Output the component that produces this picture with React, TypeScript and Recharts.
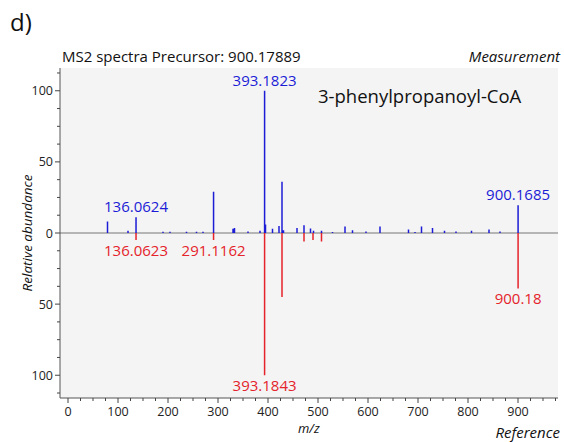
import { ComposedChart, Line, XAxis, YAxis, ReferenceLine, ReferenceDot, CartesianGrid } from 'recharts';

// measured spectrum (drawn upward)
const measuredMz = [
	79, 120, 136.0624, 190, 204, 237, 257, 270, 291.12, 330, 333, 360, 384,
	393.1823, 395, 409, 422, 428, 431, 458, 472, 485, 491, 507, 529, 554, 569,
	596, 624, 681, 694, 707, 729, 753, 776, 807, 842, 864, 900.1685,
];
const measuredIntensity = [
	8, 1.5, 11, 0.8, 0.8, 0.8, 0.8, 0.8, 29, 3, 3.5, 1, 1.5,
	100, 6, 3, 5, 36, 2, 3.5, 5.5, 3.2, 1.5, 1.5, 0.7, 4.5, 2,
	1, 4.5, 2.5, 0.7, 4.5, 3.5, 1.5, 1, 1.5, 2.5, 1, 19.5,
];

// reference spectrum (drawn downward)
const referenceMz = [136.0623, 291.1162, 393.1843, 428, 472, 490, 507, 900.18];
const referenceIntensity = [5, 5, 100, 45, 6, 5, 6, 39];

const measuredLabels = [136.0624, 393.1823, 900.1685];
const referenceLabels = ['136.0623', '291.1162', '393.1843', '900.18'];

const xLabels = [0, 100, 200, 300, 400, 500, 600, 700, 800, 900];
const yLabels = [-100, -50, 0, 50, 100];
const xTicks = Array.from({ length: 40 }, (_, i) => i * 25);
const yTicks = Array.from({ length: 19 }, (_, i) => -112.5 + i * 12.5);

const BLUE = '#1c1cd6';
const RED = '#e5232b';
const FONT = '"Open Sans", sans-serif';

// each peak becomes a vertical stick: baseline -> top -> gap
const sticks = (mz: number[], vals: number[], sign: number) =>
	mz.flatMap((m, i) => [
		{ mz: m, v: 0 },
		{ mz: m, v: sign * vals[i] },
		{ mz: m, v: null },
	]);

const measuredData = sticks(measuredMz, measuredIntensity, 1);
const referenceData = sticks(referenceMz, referenceIntensity, -1);

const XTick = (props: any) => {
	const { x, y, payload } = props;
	const major = xLabels.includes(payload.value);
	return (
		<g>
			<line x1={x} x2={x} y1={y} y2={y + (major ? 5 : 3)} stroke='#444' />
			{major && (
				<text x={x} y={y + 18} textAnchor='middle' fontSize={12.5} fill='#222' fontFamily={FONT}>
					{payload.value}
				</text>
			)}
		</g>
	);
};

const YTick = (props: any) => {
	const { x, y, payload } = props;
	const major = yLabels.includes(payload.value);
	return (
		<g>
			<line x1={x - (major ? 5 : 3)} x2={x} y1={y} y2={y} stroke='#444' />
			{major && (
				<text x={x - 7} y={y + 4.5} textAnchor='end' fontSize={12.5} fill='#222' fontFamily={FONT}>
					{Math.abs(payload.value)}
				</text>
			)}
		</g>
	);
};

const abs = (s: React.CSSProperties): React.CSSProperties => ({
	position: 'absolute',
	fontFamily: FONT,
	whiteSpace: 'nowrap',
	lineHeight: 1,
	...s,
});

export default function App() {
	return (
		<div style={{ position: 'absolute', left: 0, top: 0, width: 564, height: 442, background: '#fff', overflow: 'hidden' }}>
			<ComposedChart
				width={564}
				height={442}
				margin={{ top: 68, right: 6, left: 0, bottom: 14 }}
			>
				<CartesianGrid fill='#f4f4f4' horizontal={false} vertical={false} stroke='none' />
				<XAxis
					type='number'
					dataKey='mz'
					domain={[-16, 980]}
					ticks={xTicks}
					interval={0}
					height={30}
					tickSize={0}
					tickMargin={0}
					tick={<XTick />}
					tickLine={false}
					axisLine={{ stroke: '#555' }}
					allowDataOverflow
				/>
				<XAxis xAxisId='top' orientation='top' type='number' domain={[-16, 980]} height={0} tick={false} tickLine={false} axisLine={{ stroke: '#d6d6d6' }} />
				<YAxis
					type='number'
					domain={[-116, 116]}
					ticks={yTicks}
					interval={0}
					width={60}
					tickSize={0}
					tickMargin={0}
					tick={<YTick />}
					tickLine={false}
					axisLine={{ stroke: '#555' }}
					allowDataOverflow
				/>
				<YAxis yAxisId='right' orientation='right' domain={[-116, 116]} width={0} tick={false} tickLine={false} axisLine={{ stroke: '#d6d6d6' }} />
				<ReferenceLine y={0} stroke='#777' strokeWidth={1} />
				<Line
					data={measuredData}
					dataKey='v'
					stroke={BLUE}
					strokeWidth={1.5}
					dot={false}
					activeDot={false}
					connectNulls={false}
					isAnimationActive={false}
				/>
				<Line
					data={referenceData}
					dataKey='v'
					stroke={RED}
					strokeWidth={1.5}
					dot={false}
					activeDot={false}
					connectNulls={false}
					isAnimationActive={false}
				/>
				{measuredLabels.map((m) => (
					<ReferenceDot
						key={m}
						x={m}
						y={measuredIntensity[measuredMz.indexOf(m)]}
						r={0}
						stroke='none'
						label={{ value: String(m), position: 'top', fill: BLUE, fontSize: 15, fontFamily: FONT, offset: 5 }}
					/>
				))}
				{referenceLabels.map((t) => (
					<ReferenceDot
						key={t}
						x={Number(t)}
						y={-referenceIntensity[referenceMz.indexOf(Number(t))]}
						r={0}
						stroke='none'
						label={{ value: t, position: 'bottom', fill: RED, fontSize: 15, fontFamily: FONT, offset: 5 }}
					/>
				))}
			</ComposedChart>
			<div style={abs({ left: 10, top: 10, fontSize: 24, color: '#111' })}>d)</div>
			<div style={abs({ left: 62, top: 49, fontSize: 15, color: '#111' })}>MS2 spectra Precursor: 900.17889</div>
			<div style={abs({ right: 4, top: 49, fontSize: 15, fontStyle: 'italic', color: '#111' })}>Measurement</div>
			<div style={abs({ left: 318, top: 87, fontSize: 18.5, color: '#111' })}>3-phenylpropanoyl-CoA</div>
			<div style={abs({ left: 298, top: 422, fontSize: 13, fontStyle: 'italic', color: '#111' })}>m/z</div>
			<div style={abs({ right: 4, top: 425, fontSize: 15, fontStyle: 'italic', color: '#111' })}>Reference</div>
			<div
				style={abs({
					left: 28,
					top: 233,
					fontSize: 13.5,
					fontStyle: 'italic',
					color: '#111',
					transform: 'translate(-50%, -50%) rotate(-90deg)',
				})}
			>
				Relative abundance
			</div>
		</div>
	);
}
